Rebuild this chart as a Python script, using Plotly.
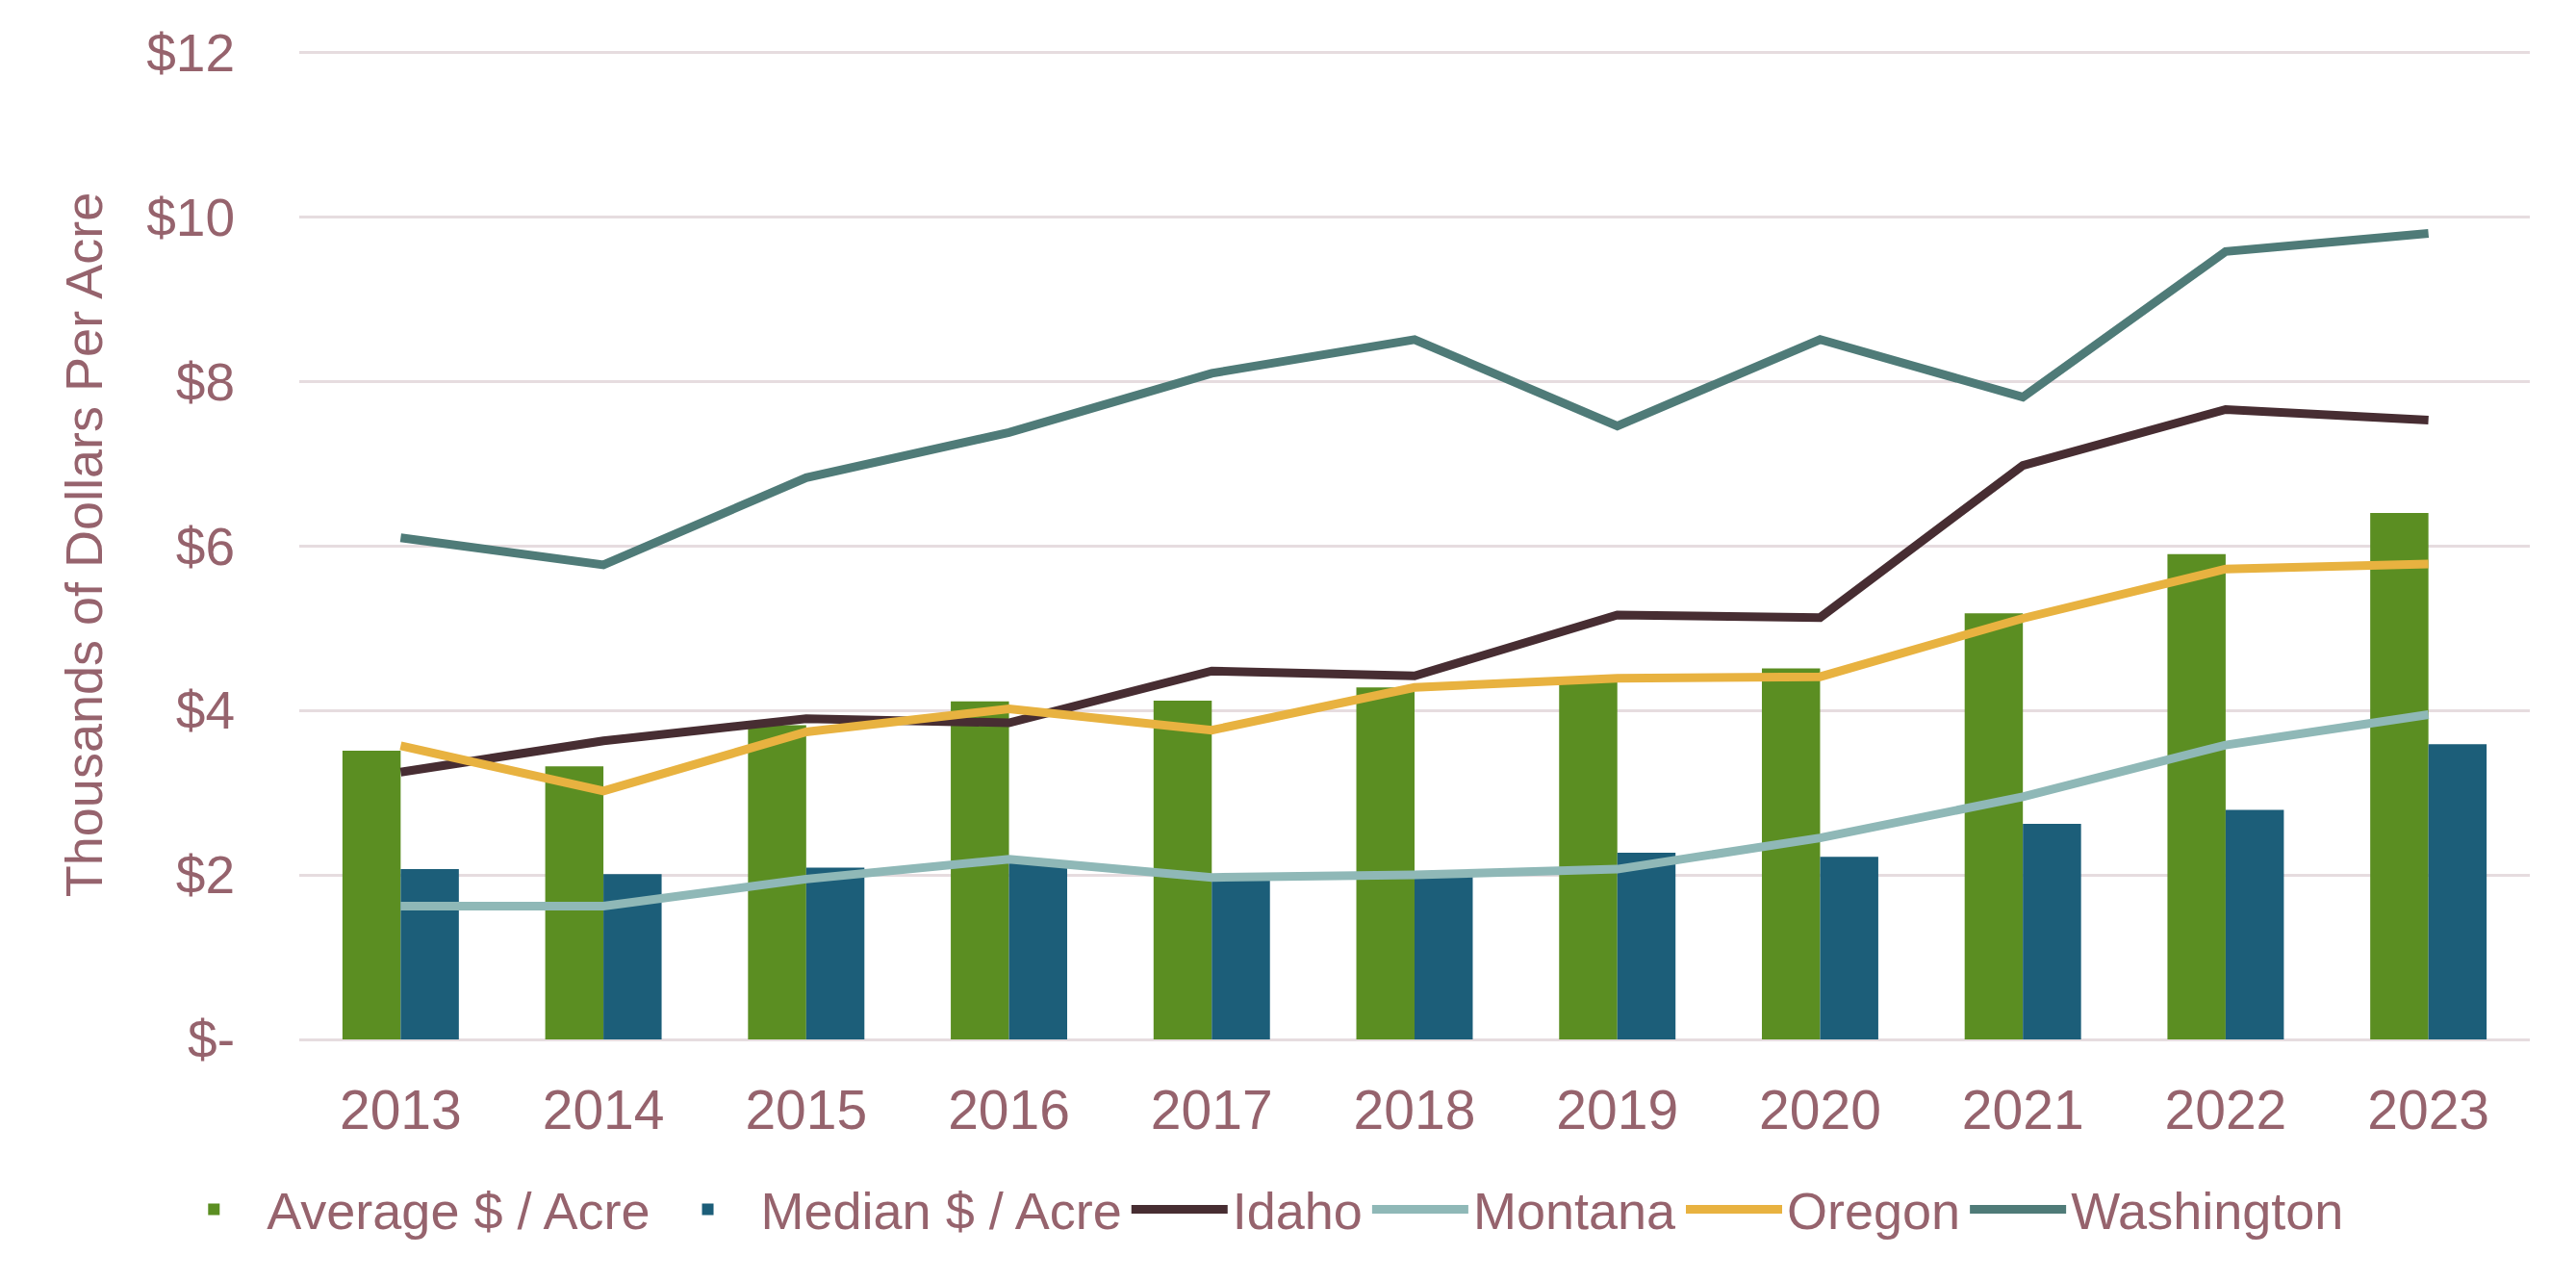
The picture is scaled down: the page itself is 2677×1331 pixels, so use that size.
import plotly.graph_objects as go

# Farmland values, thousands of dollars per acre
years = ["2013", "2014", "2015", "2016", "2017", "2018", "2019", "2020", "2021", "2022", "2023"]

average_acre = [3.51, 3.32, 3.82, 4.11, 4.12, 4.28, 4.38, 4.51, 5.18, 5.90, 6.40]
median_acre = [2.07, 2.01, 2.09, 2.15, 1.95, 1.99, 2.27, 2.22, 2.62, 2.79, 3.59]

idaho = [3.25, 3.63, 3.90, 3.85, 4.48, 4.42, 5.16, 5.13, 6.98, 7.66, 7.53]
montana = [1.62, 1.62, 1.95, 2.19, 1.97, 2.00, 2.07, 2.45, 2.95, 3.58, 3.95]
oregon = [3.57, 3.02, 3.74, 4.02, 3.76, 4.28, 4.39, 4.41, 5.12, 5.72, 5.78]
washington = [6.10, 5.77, 6.83, 7.38, 8.10, 8.51, 7.46, 8.51, 7.81, 9.58, 9.80]

tick_vals = [0, 2, 4, 6, 8, 10, 12]
tick_text = ["$-", "$2", "$4", "$6", "$8", "$10", "$12"]

text_color = "#96636D"
grid_color = "#E6DCDF"

fig = go.Figure()

fig.add_trace(go.Bar(x=years, y=average_acre, name="Average $ / Acre",
                     marker=dict(color="#5B8E22", line=dict(width=0))))
fig.add_trace(go.Bar(x=years, y=median_acre, name="Median $ / Acre",
                     marker=dict(color="#1C5E79", line=dict(width=0))))

# state lines, drawn over the bars
states = [
    ("Idaho", idaho, "#472D32"),
    ("Montana", montana, "#8FB8B7"),
    ("Oregon", oregon, "#E8B240"),
    ("Washington", washington, "#4F7B78"),
]
for name, vals, col in states:
    fig.add_trace(go.Scatter(x=years, y=vals, name=name, mode="lines",
                             line=dict(color=col, width=9)))

fig.update_layout(
    width=2677,
    height=1331,
    template="plotly_white",
    plot_bgcolor="white",
    paper_bgcolor="white",
    barmode="group",
    bargap=0.426,
    bargroupgap=0,
    margin=dict(l=303, r=56, t=44, b=259, autoexpand=False),
    font=dict(family="Liberation Sans, Arial", color=text_color, size=54),
    xaxis=dict(
        type="category",
        showgrid=False,
        showline=False,
        ticks="",
        automargin=False,
        ticklabelstandoff=35,
        tickfont=dict(family="Liberation Sans, Arial", size=57, color=text_color),
    ),
    yaxis=dict(
        range=[0, 12.03],
        tickvals=tick_vals,
        ticktext=tick_text,
        showgrid=True,
        gridcolor=grid_color,
        gridwidth=3,
        zeroline=True,
        zerolinecolor=grid_color,
        zerolinewidth=3,
        ticks="",
        automargin=False,
        ticklabelstandoff=66,
        tickfont=dict(family="Liberation Sans, Arial", size=55, color=text_color),
        title=dict(text="Thousands of Dollars Per Acre", standoff=28,
                   font=dict(family="Liberation Sans, Arial", size=54, color=text_color)),
    ),
    legend=dict(
        orientation="h",
        x=-0.062,
        xanchor="left",
        y=-0.172,
        yanchor="middle",
        font=dict(family="Liberation Sans, Arial", size=54, color=text_color),
        itemwidth=100,
        tracegroupgap=0,
    ),
)

fig.write_html("out.html")
